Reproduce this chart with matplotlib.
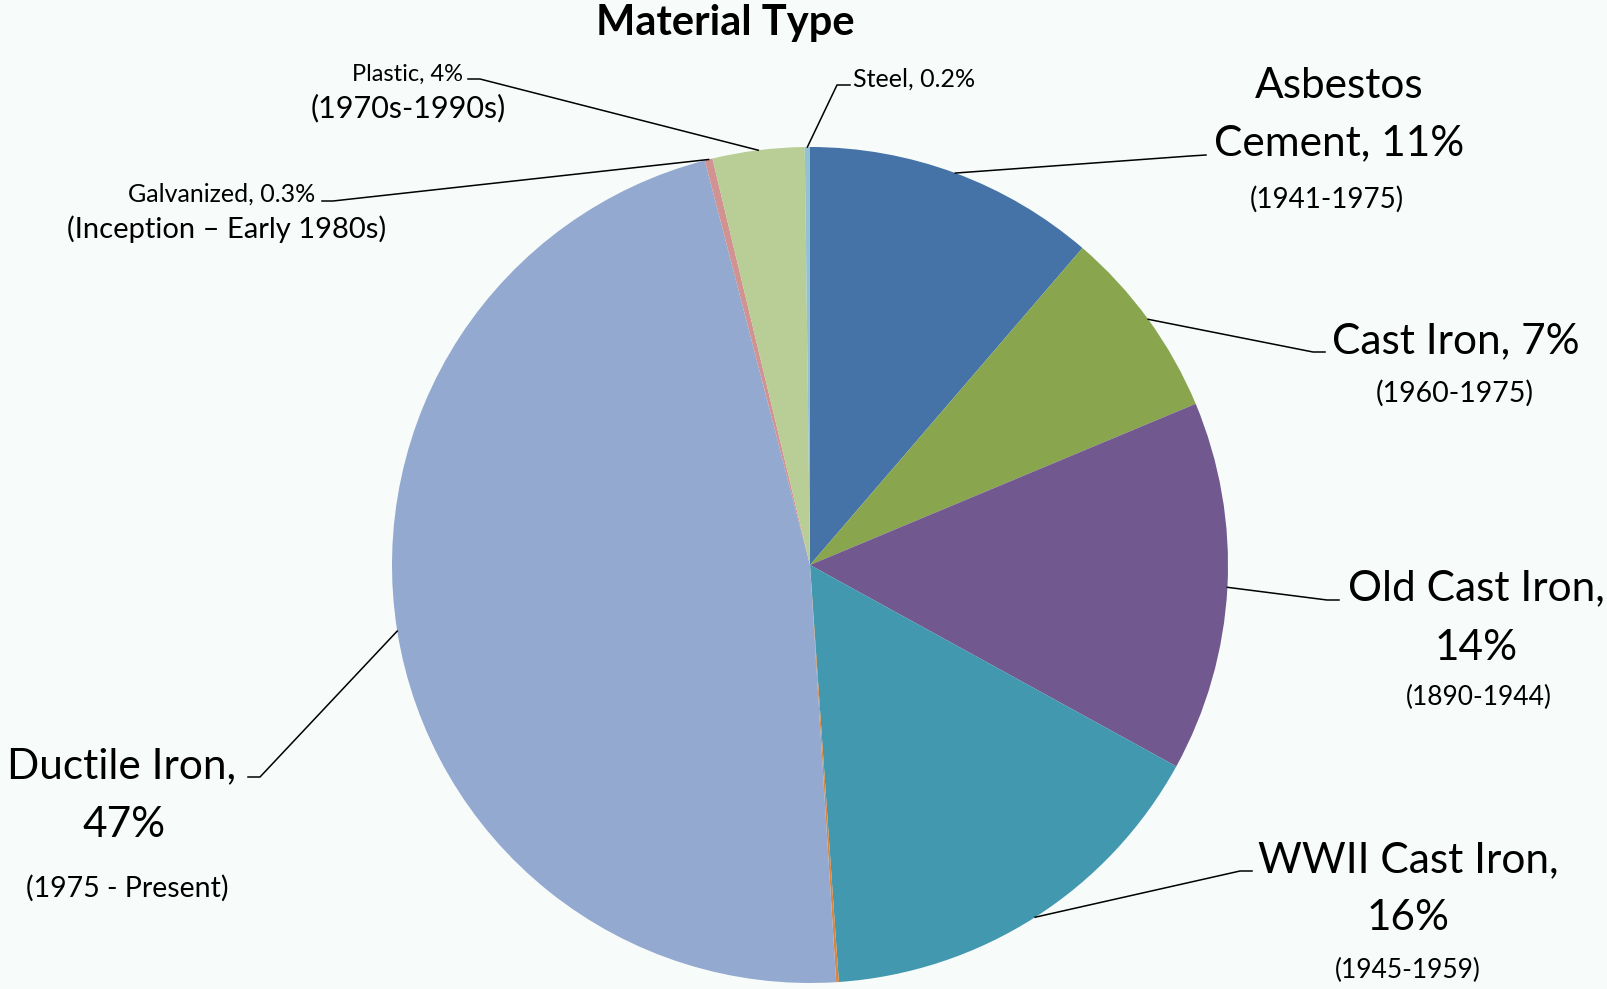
import numpy as np
import matplotlib.pyplot as plt

plt.rcParams['font.family'] = ['Lato', 'DejaVu Sans']

# slices, clockwise from 12 o'clock
materials = ['Asbestos Cement', 'Cast Iron', 'Old Cast Iron', 'WWII Cast Iron', 'Other',
             'Ductile Iron', 'Galvanized', 'Plastic', 'Steel']
shares = [11.3, 7.4, 14.3, 15.9, 0.1, 46.95, 0.3, 3.55, 0.2]
colors = ['#4572A7', '#89A54E', '#71588F', '#4198AF', '#DB843D',
          '#93A9CF', '#D19392', '#B9CD96', '#92C3D4']

# label text: (line, x, baseline y, fontsize, ha)
label_lines = {
    'Asbestos Cement': [('Asbestos', 1339, 98, 30.5, 'center'),
                        ('Cement, 11%', 1339, 155, 30.5, 'center'),
                        ('(1941-1975)', 1327, 208, 20, 'center')],
    'Cast Iron': [('Cast Iron, 7%', 1456, 353, 30.5, 'center'),
                  ('(1960-1975)', 1455, 402, 20.5, 'center')],
    'Old Cast Iron': [('Old Cast Iron,', 1476, 600, 30.5, 'center'),
                      ('14%', 1476, 660, 30.5, 'center'),
                      ('(1890-1944)', 1479, 705, 19, 'center')],
    'WWII Cast Iron': [('WWII Cast Iron,', 1408, 872, 30.5, 'center'),
                       ('16%', 1408, 930, 30.5, 'center'),
                       ('(1945-1959)', 1408, 978, 19, 'center')],
    'Ductile Iron': [('Ductile Iron,', 122, 778, 30.5, 'center'),
                     ('47%', 124, 837, 30.5, 'center'),
                     ('(1975 - Present)', 127, 897, 20.5, 'center')],
    'Galvanized': [('Galvanized, 0.3%', 315, 202, 18, 'right'),
                   ('(Inception \u2013 Early 1980s)', 227, 238, 21, 'center')],
    'Plastic': [('Plastic, 4%', 463, 81, 17, 'right'),
                ('(1970s-1990s)', 408, 117, 22, 'center')],
    'Steel': [('Steel, 0.2%', 853, 87, 18, 'left')],
}

# leader line: elbow point and end of the short horizontal stub
leaders = {
    'Asbestos Cement': [(1190, 156), (1206, 155)],
    'Cast Iron': [(1313, 352), (1325, 352)],
    'Old Cast Iron': [(1327, 600), (1339, 600)],
    'WWII Cast Iron': [(1240, 871), (1252, 871)],
    'Ductile Iron': [(260, 777), (248, 777)],
    'Galvanized': [(333, 201), (322, 201)],
    'Plastic': [(480, 79), (468, 79)],
    'Steel': [(837, 85), (850, 85)],
}

bg = '#F7FCFB'
fig = plt.figure(figsize=(16.08, 9.89), dpi=100, facecolor=bg)
ax = fig.add_axes([0, 0, 1, 1])
ax.set_facecolor(bg)

cx, cy, r = 810, 565, 418
wedges, _ = ax.pie(shares, colors=colors, startangle=-90, counterclock=True,
                   center=(cx, cy), radius=r, frame=True,
                   wedgeprops=dict(linewidth=0))
ax.set_xlim(0, 1608)
ax.set_ylim(989, 0)
ax.set_aspect('equal')
ax.axis('off')

for name, w in zip(materials, wedges):
    if name not in leaders:
        continue
    mid = np.deg2rad((w.theta1 + w.theta2) / 2)
    x0, y0 = cx + r * np.cos(mid), cy + r * np.sin(mid)
    (x1, y1), (x2, y2) = leaders[name]
    ax.plot([x0, x1, x2], [y0, y1, y2], color='black', lw=1.1)
    for txt, x, y, fs, ha in label_lines[name]:
        ax.text(x, y, txt, fontsize=fs, ha=ha, va='baseline', color='black')

ax.text(725, 35, 'Material Type', fontsize=30, fontweight='bold', ha='center', va='baseline')

fig.savefig('out.png', dpi=100, facecolor=bg)
